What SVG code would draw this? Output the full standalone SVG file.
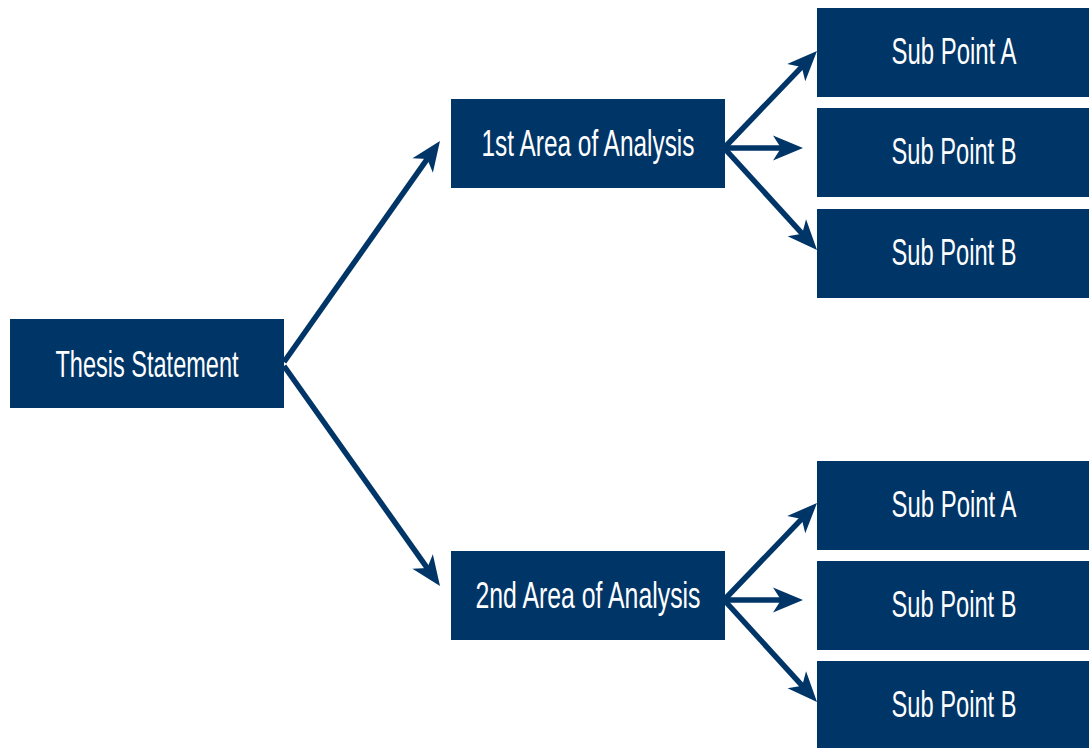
<svg xmlns="http://www.w3.org/2000/svg" width="1089" height="748" viewBox="0 0 1089 748">
<style>
.box{fill:#003567}
.lbl{fill:#fff;font-family:"Liberation Sans",Arial,sans-serif;font-size:36px;text-anchor:middle}
.con{stroke:#003567;stroke-width:5.5;fill:none}
</style>
<defs>
<marker id="ah" markerUnits="userSpaceOnUse" viewBox="-2 -15 34 30" markerWidth="34" markerHeight="30" refX="16" refY="0" orient="auto">
<path d="M0,-12.5 L30,0 L0,12.5 L8,0 z" fill="#003567"/>
</marker>
</defs>
<rect width="1089" height="748" fill="#fff"/>
<g id="connectors">
<line class="con" x1="284" y1="362" x2="431.9" y2="152.4" marker-end="url(#ah)"/>
<line class="con" x1="284" y1="366" x2="431.9" y2="574.6" marker-end="url(#ah)"/>
<line class="con" x1="725" y1="147" x2="807.3" y2="61.1" marker-end="url(#ah)"/>
<line class="con" x1="725" y1="148" x2="789" y2="148" marker-end="url(#ah)"/>
<line class="con" x1="725" y1="149" x2="807.6" y2="239.6" marker-end="url(#ah)"/>
<line class="con" x1="725" y1="599" x2="807.3" y2="513.1" marker-end="url(#ah)"/>
<line class="con" x1="725" y1="600" x2="789" y2="600" marker-end="url(#ah)"/>
<line class="con" x1="725" y1="601" x2="807.6" y2="691.6" marker-end="url(#ah)"/>
</g>
<g id="thesis"><rect class="box" x="10" y="319" width="274" height="89"/><text class="lbl" x="147" y="377" textLength="183" lengthAdjust="spacingAndGlyphs">Thesis Statement</text></g>
<g id="area1"><rect class="box" x="451" y="99" width="274" height="89"/><text class="lbl" x="588" y="156" textLength="213" lengthAdjust="spacingAndGlyphs">1st Area of Analysis</text></g>
<g id="area2"><rect class="box" x="451" y="551" width="274" height="89"/><text class="lbl" x="588" y="608" textLength="225" lengthAdjust="spacingAndGlyphs">2nd Area of Analysis</text></g>
<g id="sub1a"><rect class="box" x="817" y="8" width="272" height="89"/><text class="lbl" x="954" y="64" textLength="125" lengthAdjust="spacingAndGlyphs">Sub Point A</text></g>
<g id="sub1b"><rect class="box" x="817" y="108" width="272" height="89"/><text class="lbl" x="954" y="164" textLength="125" lengthAdjust="spacingAndGlyphs">Sub Point B</text></g>
<g id="sub1c"><rect class="box" x="817" y="209" width="272" height="89"/><text class="lbl" x="954" y="265" textLength="125" lengthAdjust="spacingAndGlyphs">Sub Point B</text></g>
<g id="sub2a"><rect class="box" x="817" y="461" width="272" height="89"/><text class="lbl" x="954" y="517" textLength="125" lengthAdjust="spacingAndGlyphs">Sub Point A</text></g>
<g id="sub2b"><rect class="box" x="817" y="561" width="272" height="89"/><text class="lbl" x="954" y="617" textLength="125" lengthAdjust="spacingAndGlyphs">Sub Point B</text></g>
<g id="sub2c"><rect class="box" x="817" y="661" width="272" height="87"/><text class="lbl" x="954" y="717" textLength="125" lengthAdjust="spacingAndGlyphs">Sub Point B</text></g>
</svg>
